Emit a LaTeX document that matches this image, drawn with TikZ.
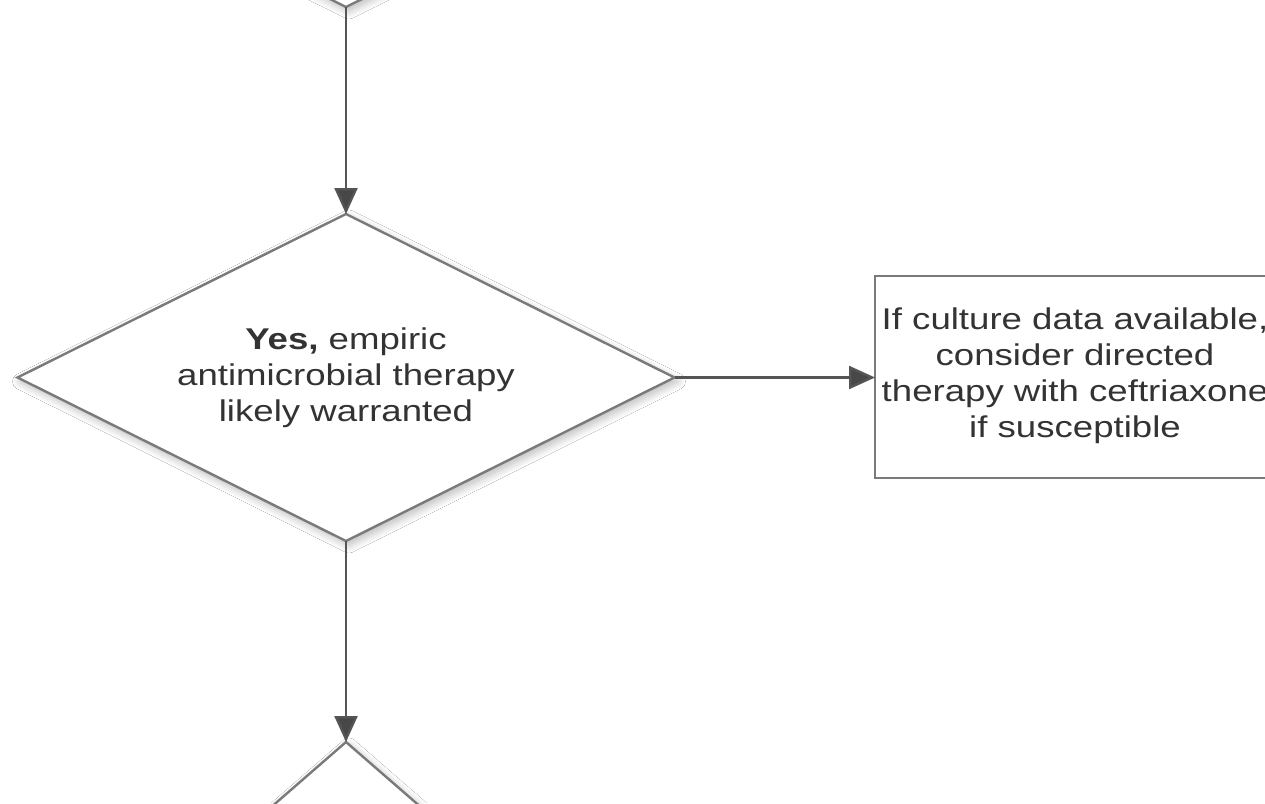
\documentclass[tikz,border=0pt]{standalone}
\usepackage{fontspec}
\setmainfont{Liberation Sans}
\usetikzlibrary{shapes.geometric, arrows.meta, shadows.blur}
\definecolor{edge}{HTML}{555555}
\definecolor{outline}{HTML}{7A7A7A}
\definecolor{ink}{HTML}{333333}
\tikzset{
  decision/.style={diamond, draw=outline, line width=2.4pt, fill=white,
    inner sep=0pt, outer sep=0pt,
    blur shadow={shadow xshift=3pt, shadow yshift=-4pt,
      shadow blur radius=8pt, shadow blur steps=12, shadow opacity=28}},
  actionbox/.style={rectangle, draw=outline, line width=2.4pt, fill=white,
    inner sep=0pt, outer sep=0pt, minimum width=400pt, minimum height=202pt},
  flowtext/.style={font=\fontsize{30}{36}\selectfont, text=ink, align=center,
    inner sep=0pt, xscale=1.22},
  arr/.style={draw=edge, line width=2.4pt,
    -{Triangle[length=26pt, width=23pt, fill=edge!85!black]}}
}
\begin{document}
\begin{tikzpicture}[x=1pt, y=-1pt]
  \useasboundingbox (0,0) rectangle (1265,803);
  \fill[white] (0,0) rectangle (1265,803);
  \clip (0,0) rectangle (1265,803);

  % decisions stacked in one column
  \node[decision, minimum width=657pt, minimum height=327pt] (prev) at (346,-156.5) {};
  \node[decision, minimum width=657pt, minimum height=327pt] (yes) at (346,377.5) {};
  \node[decision, minimum width=460pt, minimum height=400pt] (next) at (346,942) {};

  % directed-therapy action box to the right
  \node[actionbox] (culture) at (1075,377) {};

  \node[flowtext] (yestext) at (yes.center)
    {\textbf{Yes,} empiric\\antimicrobial therapy\\likely warranted};
  \node[flowtext] (culturetext) at (1075,376)
    {If culture data available,\\consider directed\\therapy with ceftriaxone\\if susceptible};

  % connectors
  \draw[arr] (prev.south) -- (yes.north);
  \draw[arr] (yes.east) -- (yes.east -| culture.west);
  \draw[arr] (yes.south) -- (next.north);
\end{tikzpicture}
\end{document}
